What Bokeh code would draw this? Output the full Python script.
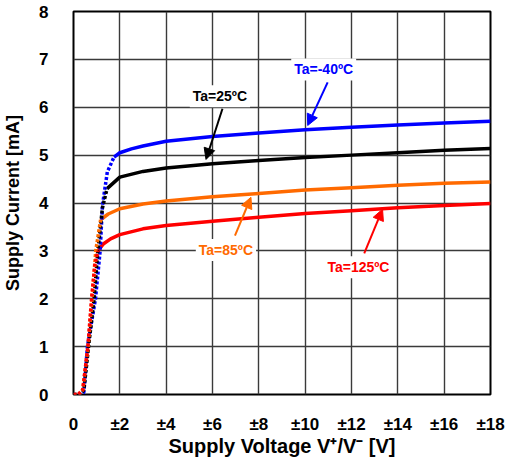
from bokeh.plotting import figure
from bokeh.models import FixedTicker, Label, Arrow, NormalHead
from bokeh.embed import file_html
from bokeh.resources import INLINE

# ---------------- data ----------------
x_ticks = [0, 2, 4, 6, 8, 10, 12, 14, 16, 18]
x_tick_labels = ["0", "±2", "±4", "±6", "±8", "±10", "±12", "±14", "±16", "±18"]
y_ticks = [0, 1, 2, 3, 4, 5, 6, 7, 8]

# Ta = -40ºC
v_m40_rise = [0.0, 0.35, 0.45, 0.6, 0.95, 1.15, 1.25, 1.46, 1.75]
i_m40_rise = [0.0, 0.0, 0.05, 1.0, 2.0, 3.0, 3.95, 4.65, 4.96]
v_m40 = [1.75, 2.0, 2.5, 3.0, 4.0, 6.0, 8.0, 10.0, 12.0, 14.0, 16.0, 18.0]
i_m40 = [4.96, 5.05, 5.13, 5.19, 5.29, 5.39, 5.46, 5.53, 5.58, 5.63, 5.67, 5.71]

# Ta = 25ºC
v_25_rise = [0.0, 0.3, 0.45, 0.65, 0.89, 1.05, 1.25, 1.45]
i_25_rise = [0.0, 0.0, 0.1, 1.0, 2.0, 3.0, 3.9, 4.3]
v_25 = [1.45, 2.0, 3.0, 4.0, 6.0, 8.0, 10.0, 12.0, 14.0, 16.0, 18.0]
i_25 = [4.3, 4.54, 4.66, 4.73, 4.82, 4.89, 4.95, 5.0, 5.05, 5.1, 5.14]

# Ta = 85ºC
v_85_rise = [0.0, 0.25, 0.4, 0.63, 0.8, 0.96, 1.17]
i_85_rise = [0.0, 0.0, 0.1, 1.0, 2.0, 3.0, 3.65]
v_85 = [1.17, 1.5, 2.0, 3.0, 4.0, 6.0, 8.0, 10.0, 12.0, 14.0, 16.0, 18.0]
i_85 = [3.65, 3.77, 3.88, 3.98, 4.04, 4.13, 4.2, 4.27, 4.32, 4.37, 4.41, 4.44]

# Ta = 125ºC
v_125_rise = [0.0, 0.2, 0.4, 0.62, 0.78, 0.92, 1.05]
i_125_rise = [0.0, 0.0, 0.1, 1.0, 2.0, 2.7, 3.0]
v_125 = [1.05, 1.3, 1.6, 2.0, 3.0, 4.0, 6.0, 8.0, 10.0, 12.0, 14.0, 16.0, 18.0]
i_125 = [3.0, 3.15, 3.25, 3.34, 3.46, 3.53, 3.62, 3.7, 3.78, 3.84, 3.9, 3.95, 3.99]

FONT = "Liberation Sans"

p = figure(width=507, height=464, x_range=(0, 18), y_range=(0, 8),
           output_backend="svg", toolbar_location=None,
           min_border_left=71, min_border_right=17, min_border_top=11,
           min_border_bottom=70)

p.background_fill_color = "white"
p.border_fill_color = "white"
p.outline_line_color = "black"
p.outline_line_width = 2

# axes
for ax in (p.xaxis[0], p.yaxis[0]):
    ax.axis_line_color = None
    ax.major_tick_line_color = None
    ax.minor_tick_line_color = None
    ax.major_label_text_font = FONT
    ax.major_label_text_font_style = "bold"
    ax.major_label_text_font_size = "17px"
    ax.major_label_text_color = "black"
    ax.axis_label_text_font = FONT
    ax.axis_label_text_font_style = "bold"
    ax.axis_label_text_color = "black"

p.xaxis.ticker = FixedTicker(ticks=x_ticks)
p.xaxis.major_label_overrides = {t: l for t, l in zip(x_ticks, x_tick_labels)}
p.xaxis.major_label_standoff = 14
p.xaxis.axis_label = "Supply Voltage V\u207a/V\u207b [V]"
p.xaxis.axis_label_text_font_size = "20px"
p.xaxis.axis_label_standoff = -2

p.yaxis.ticker = FixedTicker(ticks=y_ticks)
p.yaxis.major_label_standoff = 19
p.yaxis.axis_label = "Supply Current [mA]"
p.yaxis.axis_label_text_font_size = "18px"
p.yaxis.axis_label_standoff = 13

p.grid.grid_line_color = "#3a3a3a"
p.grid.grid_line_width = 1.4
p.xgrid.ticker = FixedTicker(ticks=x_ticks)
p.ygrid.ticker = FixedTicker(ticks=y_ticks)

series = [
    (v_m40_rise, i_m40_rise, v_m40, i_m40, "#0000FF"),
    (v_25_rise, i_25_rise, v_25, i_25, "#000000"),
    (v_85_rise, i_85_rise, v_85, i_85, "#FF6A00"),
    (v_125_rise, i_125_rise, v_125, i_125, "#FF0000"),
]
for vr, ir, vp, ip, col in series:
    p.line(vp, ip, line_color=col, line_width=3.5)
for vr, ir, vp, ip, col in series:
    p.line(vr, ir, line_color=col, line_width=3.5, line_dash="3 2")

labels = [
    (6.32, 6.23, "Ta=25ºC", "#000000", (6.43, 5.97, 5.72, 4.91)),
    (10.8, 6.79, "Ta=-40ºC", "#0000FF", (10.97, 6.52, 10.11, 5.62)),
    (6.58, 3.02, "Ta=85ºC", "#FF6A00", (6.97, 3.32, 7.66, 4.12)),
    (12.3, 2.66, "Ta=125ºC", "#FF0000", (12.55, 2.95, 13.34, 3.87)),
]
for x, y, txt, col, (xs, ys, xe, ye) in labels:
    p.add_layout(Arrow(end=NormalHead(size=11, fill_color=col, line_color=col, line_width=1),
                       x_start=xs, y_start=ys, x_end=xe, y_end=ye,
                       line_color=col, line_width=2))
    p.add_layout(Label(x=x, y=y, text=txt, text_align="center", text_baseline="middle",
                       text_font=FONT, text_font_style="bold", text_font_size="14px",
                       text_color=col, background_fill_color="white", padding=3))

open("out.html", "w").write(file_html(p, INLINE))
